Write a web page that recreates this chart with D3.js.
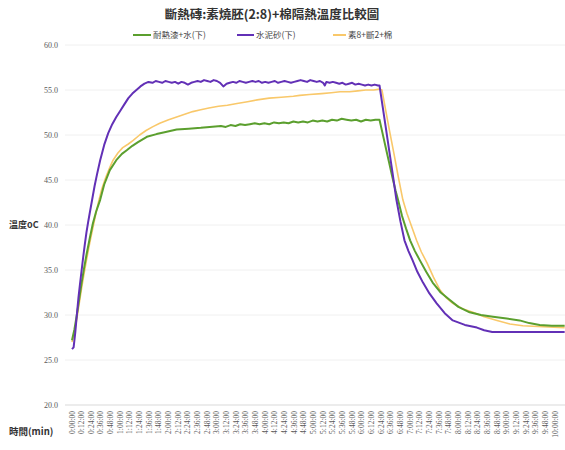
<!DOCTYPE html>
<html>
<head>
<meta charset="utf-8">
<script src="https://cdn.jsdelivr.net/npm/d3@7"></script>
<style>
  body { margin: 0; background: #fff; }
  svg { display: block; }
</style>
</head>
<body>
<div id="chart"></div>
<script>
// chart values, [minutes, temperature]
var title = "斷熱磚:素燒胚(2:8)+棉隔熱溫度比較圖";
var seriesNames = ["耐熱漆+水(下)", "水泥砂(下)", "素8+斷2+棉"];
var seriesColors = ["#5b9f2e", "#6230b6", "#f9c86a"];

var greenData = [
  [0,27.2],[3,28.4],[6,30.0],[9,31.8],[12,33.6],[15,35.2],[18,36.7],[22,38.5],[26,40.2],[30,41.5],
  [35,42.8],[40,44.5],[47,46.1],[55,47.2],[62,47.9],[68,48.3],[75,48.8],[82,49.2],[93,49.8],[105,50.1],
  [115,50.3],[130,50.6],[145,50.7],[160,50.8],[171,50.9],[185,51.0],[191,50.9],[197,51.1],[203,51.0],
  [209,51.2],[215,51.1],[221,51.2],[227,51.3],[233,51.2],[239,51.3],[245,51.2],[251,51.4],[257,51.3],
  [263,51.4],[269,51.3],[275,51.5],[281,51.4],[287,51.5],[293,51.4],[299,51.6],[305,51.5],[311,51.6],
  [317,51.5],[323,51.7],[329,51.6],[335,51.8],[341,51.7],[347,51.6],[353,51.7],[359,51.5],[365,51.7],
  [371,51.6],[377,51.7],[382,51.7],
  [386,50.1],[390,48.5],[394,46.9],[398,45.3],[402,43.8],[405,42.8],[410,41.0],[415,39.6],[420,38.3],
  [426,37.1],[432,36.1],[440,34.8],[448,33.6],[458,32.5],[469,31.7],[480,30.9],[494,30.3],[508,30.0],
  [523,29.8],[540,29.6],[556,29.4],[568,29.1],[581,28.9],[596,28.8],[612,28.8]
];

var purpleData = [
  [0,26.2],[2,26.4],[4,28.0],[6,30.0],[8,31.9],[10,33.5],[12,35.0],[14,36.5],[16,37.9],[18,39.2],
  [20,40.3],[22,41.3],[25,42.8],[28,44.3],[31,45.6],[35,47.2],[40,48.9],[45,50.2],[50,51.2],[55,52.0],
  [60,52.7],[65,53.4],[70,54.1],[75,54.6],[80,55.0],[85,55.4],[90,55.7],[95,55.9],[100,55.8],[104,56.0],
  [108,55.9],[112,55.8],[116,56.0],[120,55.9],[124,55.8],[128,55.9],[132,55.7],[136,55.9],[140,55.8],
  [144,55.6],[148,55.8],[152,55.9],[156,56.0],[160,55.9],[164,56.1],[168,56.0],[172,55.9],[176,56.1],
  [180,56.0],[184,55.8],[188,55.4],[192,55.7],[196,55.8],[200,55.9],[204,55.8],[208,56.0],[212,55.9],
  [216,55.8],[220,55.9],[224,56.0],[228,55.9],[232,56.0],[236,55.8],[240,55.9],[244,55.8],[248,55.9],
  [252,56.0],[256,55.8],[260,55.9],[264,56.0],[268,55.9],[272,55.8],[276,55.9],[280,56.0],[284,56.1],
  [288,56.0],[292,55.9],[296,56.1],[300,56.0],[304,55.9],[308,56.0],[312,55.8],[314,55.5],[316,55.9],
  [320,55.8],[324,55.9],[328,55.8],[332,55.7],[336,55.8],[340,55.6],[344,55.7],[348,55.8],[352,55.6],
  [356,55.7],[360,55.6],[364,55.5],[368,55.6],[372,55.5],[376,55.6],[380,55.5],[382,55.5],
  [386,53.1],[390,50.7],[394,48.3],[398,45.9],[403,42.8],[408,40.4],[413,38.3],[418,37.1],[423,36.1],
  [429,34.8],[436,33.6],[444,32.4],[453,31.3],[463,30.2],[473,29.4],[488,28.9],[503,28.6],[512,28.3],
  [522,28.1],[540,28.1],[570,28.1],[612,28.1]
];

var yellowData = [
  [0,27.0],[3,28.0],[6,29.6],[9,31.3],[12,33.0],[15,34.6],[18,36.1],[22,38.0],[26,39.7],[30,41.4],
  [33,42.6],[37,44.0],[42,45.3],[47,46.4],[51,47.2],[57,48.0],[63,48.6],[70,49.0],[76,49.4],[84,50.0],
  [92,50.5],[100,50.9],[109,51.3],[120,51.7],[130,52.0],[140,52.3],[150,52.6],[160,52.8],[170,53.0],
  [182,53.2],[193,53.3],[205,53.5],[218,53.7],[230,53.9],[245,54.1],[260,54.2],[275,54.3],[283,54.4],
  [295,54.5],[310,54.6],[322,54.7],[333,54.8],[345,54.8],[355,54.9],[365,55.0],[375,55.0],[382,55.1],
  [385,55.0],[390,52.6],[395,50.2],[400,47.9],[405,45.5],[411,42.8],[416,41.3],[422,39.8],[428,38.3],
  [434,37.0],[441,35.8],[449,34.2],[457,32.8],[465,31.9],[473,31.3],[485,30.7],[498,30.3],[512,29.8],
  [528,29.4],[544,29.0],[560,28.8],[585,28.7],[612,28.6]
];

var yTicks = [20, 25, 30, 35, 40, 45, 50, 55, 60];
var xTickLabels = [
  "0:00:00","0:12:00","0:24:00","0:36:00","0:48:00","1:00:00","1:12:00","1:24:00","1:36:00","1:48:00",
  "2:00:00","2:12:00","2:24:00","2:36:00","2:48:00","3:00:00","3:12:00","3:24:00","3:36:00","3:48:00",
  "4:00:00","4:12:00","4:24:00","4:36:00","4:48:00","5:00:00","5:12:00","5:24:00","5:36:00","5:48:00",
  "6:00:00","6:12:00","6:24:00","6:36:00","6:48:00","7:00:00","7:12:00","7:24:00","7:36:00","7:48:00",
  "8:00:00","8:12:00","8:24:00","8:36:00","8:48:00","9:00:00","9:12:00","9:24:00","9:36:00","9:48:00",
  "10:00:00"
];

var width = 565, height = 450;
var svg = d3.select("#chart").append("svg")
    .attr("width", width)
    .attr("height", height);

var x = d3.scaleLinear().domain([0, 600]).range([72, 555]);
var y = d3.scaleLinear().domain([20, 60]).range([405, 45]);

// gridlines
svg.selectAll(".grid")
    .data(yTicks)
  .enter().append("line")
    .attr("x1", 65)
    .attr("x2", 565)
    .attr("y1", function(d) { return y(d); })
    .attr("y2", function(d) { return y(d); })
    .attr("stroke", function(d) { return d == 20 ? "#d9d9d9" : "#f0f0f0"; })
    .attr("stroke-width", 1);

// y axis labels
svg.selectAll(".ylab")
    .data(yTicks)
  .enter().append("text")
    .attr("x", 58)
    .attr("y", function(d) { return y(d) + 3; })
    .attr("text-anchor", "end")
    .attr("font-family", "Liberation Serif, serif")
    .attr("font-size", "8px")
    .attr("fill", "#595959")
    .text(function(d) { return d3.format(".1f")(d); });

// x axis labels, rotated
svg.selectAll(".xlab")
    .data(xTickLabels)
  .enter().append("text")
    .attr("transform", function(d, i) {
      return "translate(" + (x(i * 12) + 2.5) + ",411) rotate(-90)";
    })
    .attr("text-anchor", "end")
    .attr("font-family", "Liberation Serif, serif")
    .attr("font-size", "7.5px")
    .attr("fill", "#595959")
    .text(function(d) { return d; });

// lines
var line = d3.line()
    .x(function(d) { return x(d[0]); })
    .y(function(d) { return y(d[1]); });

var allSeries = [greenData, purpleData, yellowData];
var widths = [2, 2, 1.6];

[2, 0, 1].forEach(function(i) {
  svg.append("path")
      .datum(allSeries[i])
      .attr("fill", "none")
      .attr("stroke", seriesColors[i])
      .attr("stroke-width", widths[i])
      .attr("stroke-linejoin", "round")
      .attr("d", line);
});

// title
svg.append("text")
    .attr("x", 272)
    .attr("y", 19)
    .attr("text-anchor", "middle")
    .attr("font-family", "Noto Sans CJK TC, sans-serif")
    .attr("font-weight", "bold")
    .attr("font-size", "12.5px")
    .attr("fill", "#333")
    .text(title);

// legend
var legendX = [133, 237, 333];
var legendLen = [18, 17, 13];
seriesNames.forEach(function(name, i) {
  svg.append("line")
      .attr("x1", legendX[i])
      .attr("x2", legendX[i] + legendLen[i])
      .attr("y1", 35)
      .attr("y2", 35)
      .attr("stroke", seriesColors[i])
      .attr("stroke-width", 2);
  svg.append("text")
      .attr("x", legendX[i] + legendLen[i] + 2)
      .attr("y", 38)
      .attr("font-family", "Noto Sans CJK TC, sans-serif")
      .attr("font-size", "8.5px")
      .attr("fill", "#444")
      .text(name);
});

// axis titles
svg.append("text")
    .attr("x", 9)
    .attr("y", 228)
    .attr("font-family", "Noto Sans CJK TC, sans-serif")
    .attr("font-weight", "bold")
    .attr("font-size", "9px")
    .attr("fill", "#333")
    .text("溫度oC");

svg.append("text")
    .attr("x", 9)
    .attr("y", 435)
    .attr("font-family", "Noto Sans CJK TC, sans-serif")
    .attr("font-weight", "bold")
    .attr("font-size", "9.5px")
    .attr("fill", "#333")
    .text("時間(min)");
</script>
</body>
</html>
